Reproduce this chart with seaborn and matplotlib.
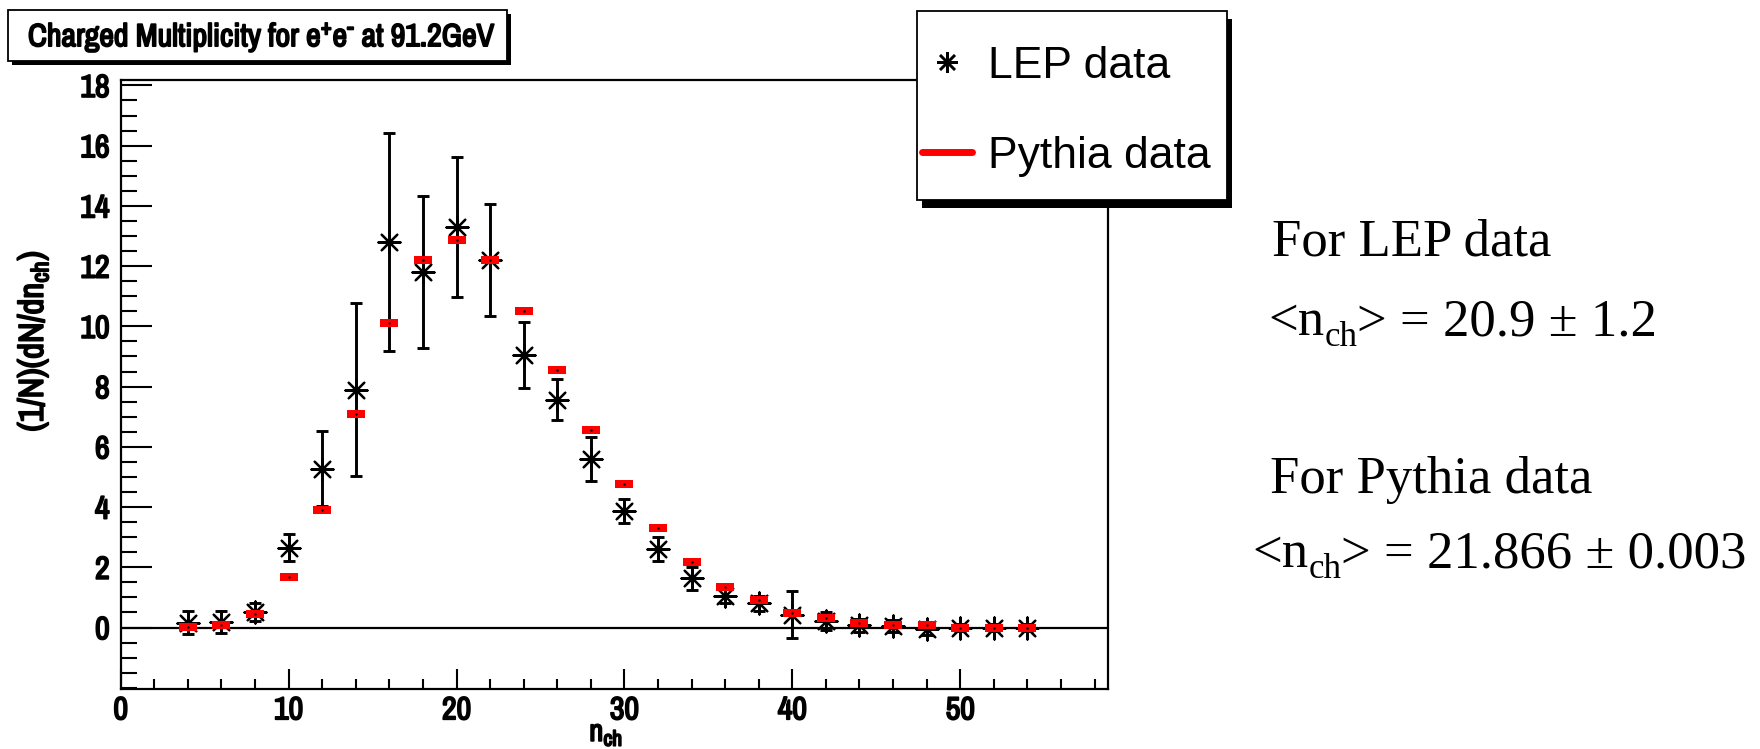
import numpy as np
import pandas as pd
import matplotlib
matplotlib.use("Agg")
import matplotlib.pyplot as plt
import seaborn as sns
from matplotlib.patches import Rectangle
from matplotlib.lines import Line2D
from matplotlib.ticker import MultipleLocator, FixedLocator
from matplotlib import font_manager
from matplotlib import patheffects as pe

# ---------------- data ----------------
n_ch = [4, 6, 8, 10, 12, 14, 16, 18, 20, 22, 24, 26, 28, 30, 32, 34, 36, 38, 40, 42, 44, 46, 48, 50, 52, 54]
lep = [0.16, 0.18, 0.52, 2.65, 5.28, 7.9, 12.8, 11.8, 13.3, 12.2, 9.05, 7.57, 5.6, 3.88, 2.6, 1.63,
       1.05, 0.8, 0.42, 0.22, 0.08, 0.05, -0.05, 0.0, 0.0, 0.0]
lep_err = [0.38, 0.37, 0.3, 0.45, 1.23, 2.86, 3.63, 2.53, 2.33, 1.87, 1.08, 0.69, 0.73, 0.4, 0.4, 0.39,
           0.22, 0.25, 0.78, 0.3, 0.22, 0.2, 0.2, 0.12, 0.12, 0.12]
pythia = [0.02, 0.07, 0.46, 1.68, 3.89, 7.08, 10.1, 12.22, 12.88, 12.22, 10.51, 8.55, 6.57, 4.78, 3.31,
          2.18, 1.35, 0.9, 0.48, 0.32, 0.16, 0.08, 0.08, 0.0, 0.0, 0.0]
x_major = [0, 10, 20, 30, 40, 50]
y_major = [0, 2, 4, 6, 8, 10, 12, 14, 16, 18]
series_labels = ["LEP data", "Pythia data"]
title_text = r"Charged Multiplicity for e$^{+}$e$^{\text{-}}$ at 91.2GeV"
xlabel_text = "n$_{ch}$"
ylabel_text = "(1/N)(dN/dn$_{ch}$)"
side_texts = [("For LEP data", None, None), ("<n", "ch", "> = 20.9 \u00b1 1.2"),
              ("For Pythia data", None, None), ("<n", "ch", "> = 21.866 \u00b1 0.003")]

df = pd.DataFrame({"n": n_ch, "lep": lep, "err": lep_err, "pythia": pythia})

# ---------------- style ----------------
sns.set_style("ticks")
avail = {f.name for f in font_manager.fontManager.ttflist}
NARROW = "Archivo Narrow" if "Archivo Narrow" in avail else "Liberation Sans"
SERIF = "Liberation Serif"
plt.rcParams["font.family"] = [NARROW, "Liberation Sans", "DejaVu Sans"]
plt.rcParams["mathtext.fontset"] = "custom"
plt.rcParams["mathtext.rm"] = NARROW + ":bold"
plt.rcParams["mathtext.it"] = NARROW + ":bold"
plt.rcParams["mathtext.bf"] = NARROW + ":bold"
plt.rcParams["mathtext.default"] = "rm"
for k in ["text.color", "axes.labelcolor", "xtick.color", "ytick.color", "axes.edgecolor"]:
    plt.rcParams[k] = "black"

BOLD = [pe.withStroke(linewidth=1.3, foreground="black")]

W, H = 1760, 749
fig = plt.figure(figsize=(W / 100, H / 100), dpi=100)
fig.patch.set_facecolor("white")

L, R, T, B = 120.7, 1108.0, 80.0, 689.3
ax = fig.add_axes([L / W, 1 - B / H, (R - L) / W, (B - T) / H])
ax.set_facecolor("white")


def fx(px):
    return px / W


def fy(py):
    return 1 - py / H


# error bars
ax.errorbar(df["n"], df["lep"], yerr=df["err"], fmt="none", ecolor="black",
            elinewidth=2.1, capsize=4.3, capthick=2.1, zorder=2)
# LEP asterisks
sns.scatterplot(data=df, x="n", y="lep", marker=(8, 2, 0), s=250, color="black",
                linewidth=1.6, ax=ax, zorder=3, legend=False)
sns.scatterplot(data=df, x="n", y="lep", marker="o", s=24, color="black",
                linewidth=0, ax=ax, zorder=3, legend=False)
# Pythia rectangles
rect_marker = [(-1, -0.42), (1, -0.42), (1, 0.42), (-1, 0.42), (-1, -0.42)]
sns.scatterplot(data=df, x="n", y="pythia", marker=rect_marker, s=150, color="#ff0000",
                linewidth=0, ax=ax, zorder=4, legend=False)
sns.scatterplot(data=df, x="n", y="pythia", marker="o", s=3, color="black",
                linewidth=0, ax=ax, zorder=5, legend=False)

ax.axhline(0, color="black", lw=1.6, zorder=1)

ax.set_xlim(0, 58.8)
ax.set_ylim(-2.05, 18.18)
ax.xaxis.set_major_locator(FixedLocator(x_major))
ax.xaxis.set_minor_locator(MultipleLocator(2))
ax.yaxis.set_major_locator(FixedLocator(y_major))
ax.yaxis.set_minor_locator(MultipleLocator(0.5))
ax.tick_params(axis="x", which="major", direction="in", length=14.4, width=1.5,
               labelsize=23, pad=5, top=False)
ax.tick_params(axis="x", which="minor", direction="in", length=7.2, width=1.5, top=False)
ax.tick_params(axis="y", which="major", direction="in", length=22, width=1.5,
               labelsize=23, pad=8, right=False)
ax.tick_params(axis="y", which="minor", direction="in", length=11.5, width=1.5, right=False)
for lab in ax.get_xticklabels() + ax.get_yticklabels():
    lab.set_fontweight("bold")
    lab.set_path_effects(BOLD)
for sp in ax.spines.values():
    sp.set_linewidth(1.6)
    sp.set_color("black")

ax.set_xlabel(xlabel_text, fontsize=22, fontweight="bold", va="center", path_effects=BOLD)
ax.xaxis.set_label_coords((606 - L) / (R - L), (B - 734) / (B - T))
ax.set_ylabel(ylabel_text, fontsize=25, fontweight="bold", va="center", path_effects=BOLD)
ax.yaxis.set_label_coords((33 - L) / (R - L), (B - 341) / (B - T))

# ---------------- boxes with shadow ----------------
def shadow_box(x0, y0, x1, y1, dx, dy, lw=1.3):
    fig.patches.append(Rectangle((fx(x0 + dx), fy(y1 + dy)), fx(x1 - x0), (y1 - y0) / H,
                                 transform=fig.transFigure, facecolor="black",
                                 edgecolor="none", zorder=6))
    fig.patches.append(Rectangle((fx(x0), fy(y1)), fx(x1 - x0), (y1 - y0) / H,
                                 transform=fig.transFigure, facecolor="white",
                                 edgecolor="black", lw=lw, zorder=7))

shadow_box(8, 10, 507, 61, 4, 4)
fig.text(fx(28), fy(37), title_text, fontsize=23, fontweight="bold", va="center",
         ha="left", zorder=8, path_effects=BOLD)

# ---------------- legend ----------------
shadow_box(917, 11, 1227, 200, 5, 8)
handles = [Line2D([], [], marker=(8, 2, 0), color="black", ls="none", markersize=15, mew=1.8),
           Line2D([], [], color="#ff0000", lw=5)]
leg = fig.legend(handles, series_labels, loc="upper left", bbox_to_anchor=(fx(922), fy(46)),
                 frameon=False, prop={"family": "Liberation Sans", "size": 32},
                 handlelength=1.13, handletextpad=0.36, labelspacing=1.1,
                 borderpad=0, borderaxespad=0)
leg.set_zorder(9)

# ---------------- side text ----------------
baselines = [255, 335, 493, 567]
xstarts = [1272, 1268, 1270, 1252]
for (pre, sub, post), yb, xs in zip(side_texts, baselines, xstarts):
    t1 = fig.text(fx(xs), fy(yb), pre, fontsize=38, family=SERIF, va="baseline", ha="left")
    if sub is not None:
        t2 = ax.annotate(sub, xy=(1, 0), xycoords=t1, xytext=(0, 0), textcoords="offset points",
                         fontsize=25, family=SERIF, va="baseline", ha="left",
                         annotation_clip=False)
        ax.annotate(post, xy=(1, 0), xycoords=(t2, t1), fontsize=38, family=SERIF,
                    va="bottom", ha="left", annotation_clip=False)

fig.savefig("out.png", dpi=100, facecolor="white")
